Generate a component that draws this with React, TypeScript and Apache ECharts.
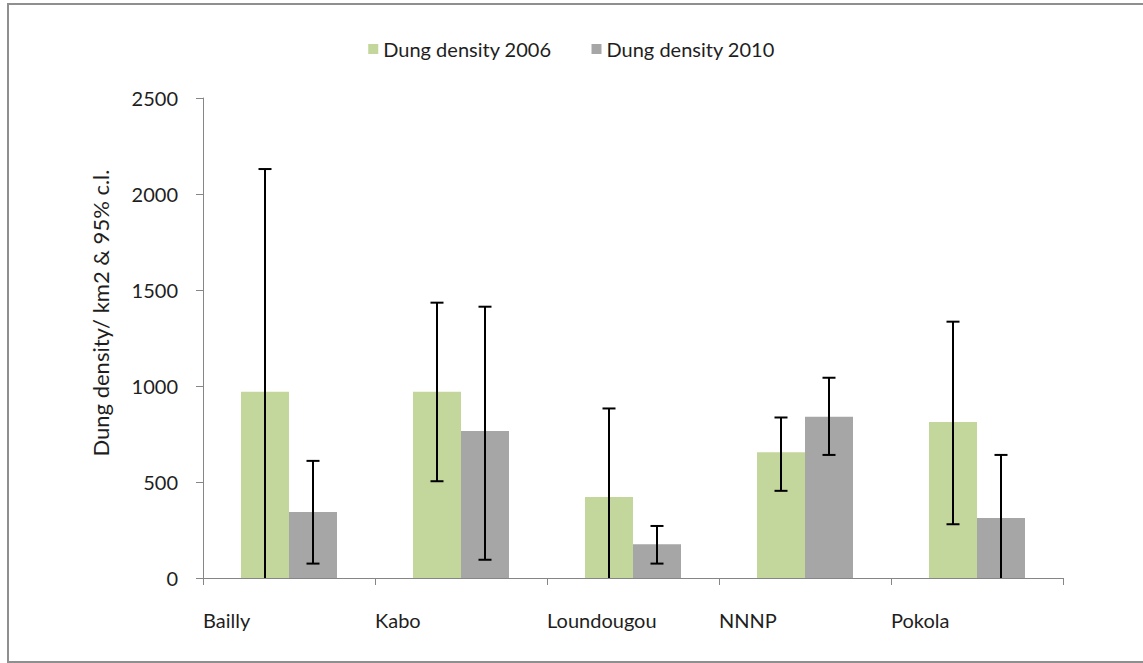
import React, { useEffect, useRef } from "react";
import * as echarts from "echarts";

// Sites and dung density estimates (per km2) with 95% confidence limits
const categories = ["Bailly", "Kabo", "Loundougou", "NNNP", "Pokola"];
const density2006 = [970, 970, 422, 655, 812];
const density2010 = [344, 765, 176, 840, 313];
const low2006 = [0, 504, 0, 454, 280];
const high2006 = [2130, 1434, 883, 836, 1335];
const low2010 = [75, 95, 75, 641, 0];
const high2010 = [610, 1413, 271, 1043, 641];
const yTicks = [0, 500, 1000, 1500, 2000, 2500];

const FONT = "Lato";
const BAR_W = 48;
const AXIS_COLOR = "#868686";
const TEXT_COLOR = "#1e1e1e";

export default function App() {
  const ref = useRef<HTMLDivElement>(null);

  useEffect(() => {
    if (!ref.current) return;
    const chart = echarts.init(ref.current, null, { renderer: "svg" });

    // Error bar: vertical whisker with caps; a bound sitting on the axis floor gets no cap
    const errorBar = (offset: number) => (params: any, api: any) => {
      const i = api.value(0);
      const lo = api.value(1);
      const hi = api.value(2);
      const top = api.coord([i, hi]);
      const bot = api.coord([i, lo]);
      const x = top[0] + offset;
      const cap = 6.5;
      const style = { stroke: "#000", lineWidth: 2 };
      const children: any[] = [
        { type: "line", shape: { x1: x, y1: top[1], x2: x, y2: bot[1] }, style },
        { type: "line", shape: { x1: x - cap, y1: top[1], x2: x + cap, y2: top[1] }, style },
      ];
      if (lo > yTicks[0]) {
        children.push({
          type: "line",
          shape: { x1: x - cap, y1: bot[1], x2: x + cap, y2: bot[1] },
          style,
        });
      }
      return { type: "group", children };
    };

    chart.setOption({
      animation: false,
      backgroundColor: "#ffffff",
      textStyle: { fontFamily: FONT, color: TEXT_COLOR },
      legend: {
        data: ["Dung density 2006", "Dung density 2010"],
        left: "center",
        top: 34,
        itemWidth: 10,
        itemHeight: 10,
        itemGap: 40,
        icon: "rect",
        textStyle: { fontFamily: FONT, fontSize: 20, color: TEXT_COLOR },
      },
      grid: { left: 203, right: 80, top: 98, bottom: 85, containLabel: false },
      xAxis: [
        {
          type: "category",
          data: categories,
          position: "bottom",
          axisLine: { lineStyle: { color: AXIS_COLOR, width: 1 } },
          axisTick: { show: true, length: 7, lineStyle: { color: AXIS_COLOR } },
          axisLabel: { show: false },
        },
        {
          // category names sit at the left boundary of each band
          type: "category",
          data: [...categories, ""],
          position: "bottom",
          boundaryGap: false,
          axisLine: { show: false },
          axisTick: { show: false },
          axisLabel: {
            interval: 0,
            align: "left",
            margin: 32,
            fontFamily: FONT,
            fontSize: 20,
            color: TEXT_COLOR,
          },
        },
      ],
      yAxis: {
        type: "value",
        min: yTicks[0],
        max: yTicks[yTicks.length - 1],
        interval: 500,
        splitLine: { show: false },
        axisLine: { show: true, lineStyle: { color: AXIS_COLOR, width: 1 } },
        axisTick: { show: true, length: 7, lineStyle: { color: AXIS_COLOR } },
        axisLabel: {
          margin: 25,
          fontFamily: FONT,
          fontSize: 20,
          color: TEXT_COLOR,
          formatter: (v: number) => String(v),
        },
      },
      graphic: [
        {
          type: "rect",
          shape: { x: 8, y: 4, width: 1160, height: 658 },
          style: { fill: "none", stroke: "#8f8f8f", lineWidth: 2 },
          silent: true,
        },
        {
          type: "text",
          x: 100,
          y: 313,
          rotation: Math.PI / 2,
          style: {
            text: "Dung density/ km2 & 95% c.l.",
            fontFamily: FONT,
            fontSize: 22,
            fill: TEXT_COLOR,
            align: "center",
            verticalAlign: "middle",
          },
        },
      ],
      series: [
        {
          name: "Dung density 2006",
          type: "bar",
          data: density2006,
          barWidth: BAR_W,
          barGap: "0%",
          itemStyle: { color: "#C3D69B" },
        },
        {
          name: "Dung density 2010",
          type: "bar",
          data: density2010,
          barWidth: BAR_W,
          barGap: "0%",
          itemStyle: { color: "#A6A6A6" },
        },
        {
          name: "ci2006",
          type: "custom",
          renderItem: errorBar(-BAR_W / 2),
          data: categories.map((_, i) => [i, low2006[i], high2006[i]]),
          encode: { x: 0, y: [1, 2] },
          z: 5,
        },
        {
          name: "ci2010",
          type: "custom",
          renderItem: errorBar(BAR_W / 2),
          data: categories.map((_, i) => [i, low2010[i], high2010[i]]),
          encode: { x: 0, y: [1, 2] },
          z: 5,
        },
      ],
    });

    return () => chart.dispose();
  }, []);

  return (
    <div
      ref={ref}
      style={{ position: "absolute", left: 0, top: 0, width: 1143, height: 663 }}
    />
  );
}
